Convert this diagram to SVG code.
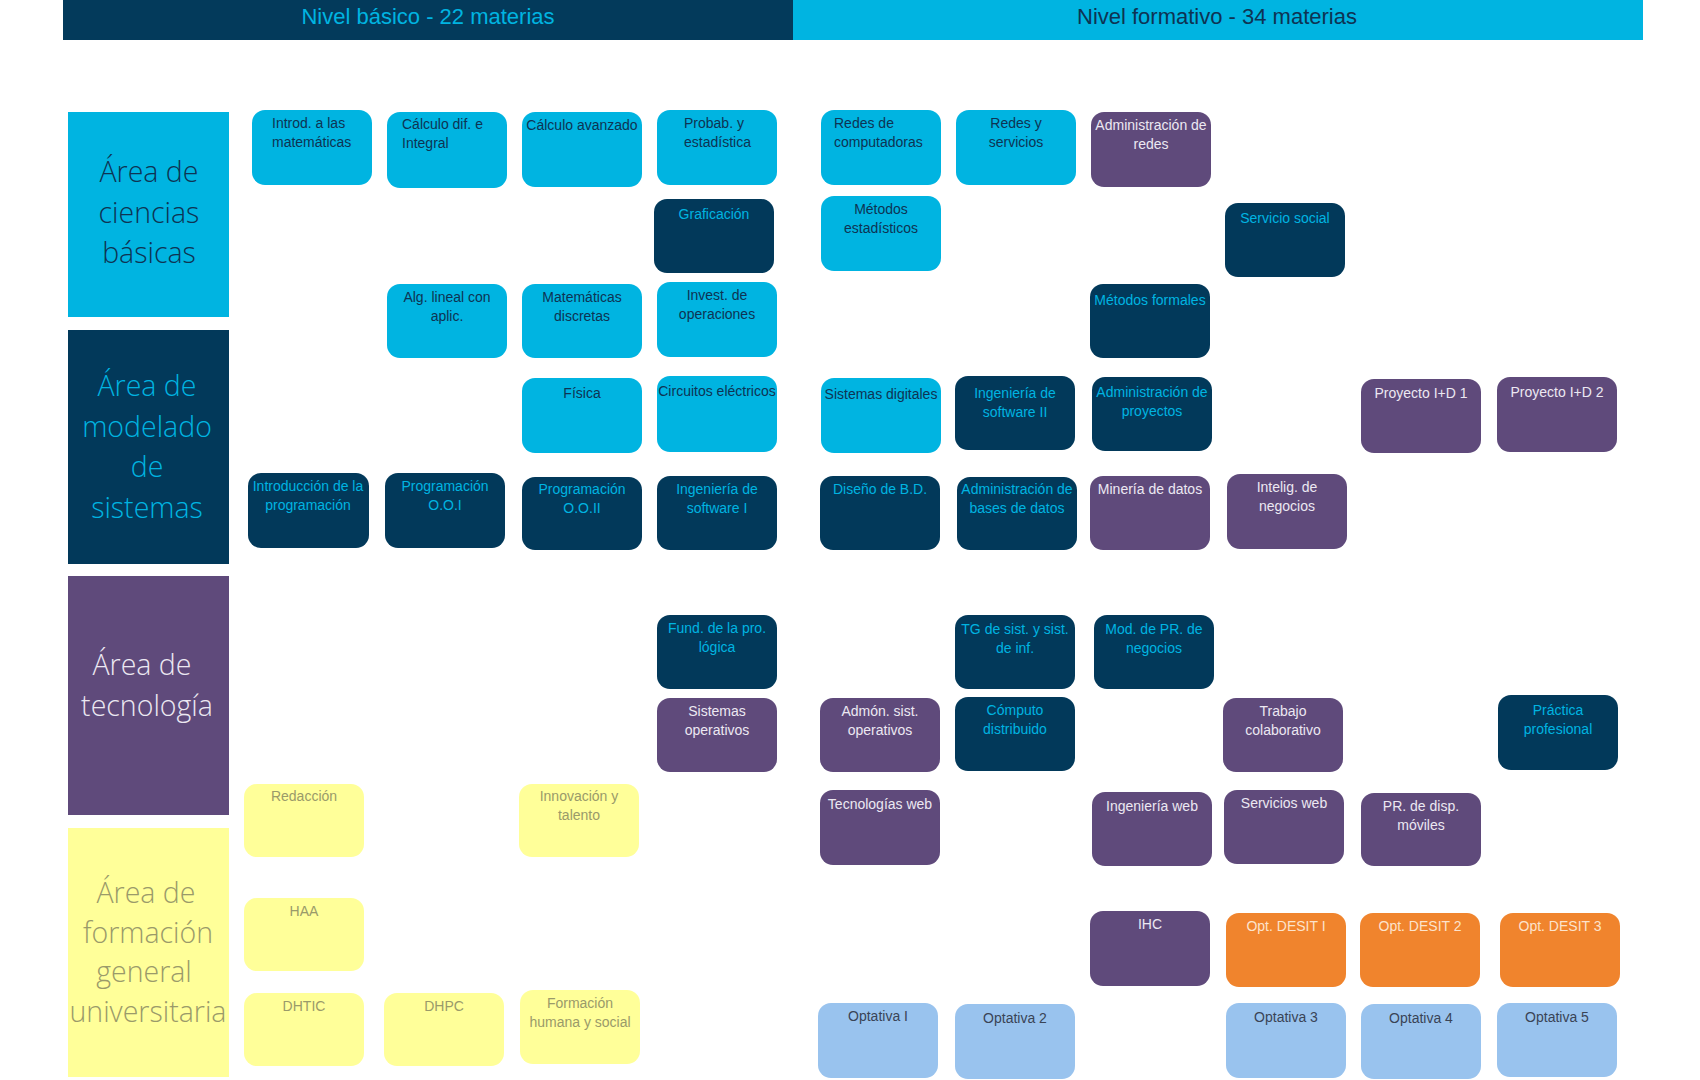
<svg xmlns="http://www.w3.org/2000/svg" width="1700" height="1080" viewBox="0 0 1700 1080">
<style>
text{font-family:"Liberation Sans","Noto Sans",Arial,sans-serif}
.n{stroke:none}
.cy{fill:#00B4E1}.nv{fill:#02395A}.pu{fill:#5F4A7B}.ye{fill:#FFFF99}.or{fill:#F0842D}.lb{fill:#99C3EE}
.t{font-size:14px;text-anchor:middle}
.tl{font-size:14px;text-anchor:start}
.tcy{fill:#0E3353}.tnv{fill:#00B4E1}.tpu{fill:#ECE8F2}.tye{fill:#9A9A6A}.tor{fill:#FCE3CC}.tlb{fill:#3A4456}
.cat{font-family:"Open Sans","Liberation Sans",sans-serif;font-weight:300;font-size:28.5px;text-anchor:middle}
.hdr{font-size:22px;text-anchor:middle}
</style>
<rect width="1700" height="1080" fill="#FFFFFF"/>
<g id="header-basico"><rect x="63" y="0" width="730" height="40" fill="#033A5B"/><text class="hdr" x="428" y="24" fill="#00B4E1">Nivel básico - 22 materias</text></g>
<g id="header-formativo"><rect x="793" y="0" width="850" height="40" fill="#00B4E1"/><text class="hdr" x="1217" y="24" fill="#0E3353">Nivel formativo - 34 materias</text></g>

<g id="area-ciencias"><rect x="68" y="112" width="161" height="205" class="cy"/><text class="cat tcy" x="149" y="182"><tspan x="149">Área de</tspan><tspan x="149" dy="40.6">ciencias</tspan><tspan x="149" dy="40.6">básicas</tspan></text></g>
<g id="area-modelado"><rect x="68" y="330" width="161" height="234" class="nv"/><text class="cat tnv" x="147" y="396"><tspan x="147">Área de</tspan><tspan x="147" dy="40.6">modelado</tspan><tspan x="147" dy="40.6">de</tspan><tspan x="147" dy="40.6">sistemas</tspan></text></g>
<g id="area-tecnologia"><rect x="68" y="576" width="161" height="239" class="pu"/><text class="cat tpu" x="144" y="675"><tspan x="142">Área de</tspan><tspan x="147" dy="40.6">tecnología</tspan></text></g>
<g id="area-formacion"><rect x="68" y="828" width="161" height="249" class="ye"/><text class="cat tye" x="146" y="903"><tspan x="146">Área de</tspan><tspan x="148" dy="40">formación</tspan><tspan x="144" dy="39">general</tspan><tspan x="148" dy="40">universitaria</tspan></text></g>

<g id="connectors"></g>

<!-- Column A -->
<g id="introd-mat"><rect class="n cy" x="252" y="110" width="120" height="75" rx="13"/><text class="tl tcy" x="272" y="128"><tspan x="272">Introd. a las</tspan><tspan x="272" dy="18.5">matemáticas</tspan></text></g>
<g id="intro-prog"><rect class="n nv" x="248" y="473" width="121" height="75" rx="13"/><text class="t tnv" x="308" y="491"><tspan x="308">Introducción de la</tspan><tspan x="308" dy="18.5">programación</tspan></text></g>
<g id="redaccion"><rect class="n ye" x="244" y="784" width="120" height="73" rx="13"/><text class="t tye" x="304" y="801">Redacción</text></g>
<g id="haa"><rect class="n ye" x="244" y="898" width="120" height="73" rx="13"/><text class="t tye" x="304" y="916">HAA</text></g>
<g id="dhtic"><rect class="n ye" x="244" y="993" width="120" height="73" rx="13"/><text class="t tye" x="304" y="1011">DHTIC</text></g>

<!-- Column B -->
<g id="calculo-dif"><rect class="n cy" x="387" y="112" width="120" height="76" rx="13"/><text class="tl tcy" x="402" y="129"><tspan x="402">Cálculo dif. e</tspan><tspan x="402" dy="18.5">Integral</tspan></text></g>
<g id="alg-lineal"><rect class="n cy" x="387" y="284" width="120" height="74" rx="13"/><text class="t tcy" x="447" y="302"><tspan x="447">Alg. lineal con</tspan><tspan x="447" dy="18.5">aplic.</tspan></text></g>
<g id="prog-ooi"><rect class="n nv" x="385" y="473" width="120" height="75" rx="13"/><text class="t tnv" x="445" y="491"><tspan x="445">Programación</tspan><tspan x="445" dy="18.5">O.O.I</tspan></text></g>
<g id="dhpc"><rect class="n ye" x="384" y="993" width="120" height="73" rx="13"/><text class="t tye" x="444" y="1011">DHPC</text></g>

<!-- Column C -->
<g id="calculo-av"><rect class="n cy" x="522" y="112" width="120" height="75" rx="13"/><text class="t tcy" x="582" y="130">Cálculo avanzado</text></g>
<g id="mat-discretas"><rect class="n cy" x="522" y="284" width="120" height="74" rx="13"/><text class="t tcy" x="582" y="302"><tspan x="582">Matemáticas</tspan><tspan x="582" dy="18.5">discretas</tspan></text></g>
<g id="fisica"><rect class="n cy" x="522" y="378" width="120" height="75" rx="13"/><text class="t tcy" x="582" y="398">Física</text></g>
<g id="prog-ooii"><rect class="n nv" x="522" y="477" width="120" height="73" rx="13"/><text class="t tnv" x="582" y="494"><tspan x="582">Programación</tspan><tspan x="582" dy="18.5">O.O.II</tspan></text></g>
<g id="innovacion"><rect class="n ye" x="519" y="784" width="120" height="73" rx="13"/><text class="t tye" x="579" y="801"><tspan x="579">Innovación y</tspan><tspan x="579" dy="18.5">talento</tspan></text></g>
<g id="formacion-hs"><rect class="n ye" x="520" y="990" width="120" height="74" rx="13"/><text class="t tye" x="580" y="1008"><tspan x="580">Formación</tspan><tspan x="580" dy="18.5">humana y social</tspan></text></g>

<!-- Column D -->
<g id="probab"><rect class="n cy" x="657" y="110" width="120" height="75" rx="13"/><text class="tl tcy" x="684" y="128"><tspan x="684">Probab. y</tspan><tspan x="684" dy="18.5">estadística</tspan></text></g>
<g id="graficacion"><rect class="n nv" x="654" y="199" width="120" height="74" rx="13"/><text class="t tnv" x="714" y="219">Graficación</text></g>
<g id="invest-op"><rect class="n cy" x="657" y="282" width="120" height="75" rx="13"/><text class="t tcy" x="717" y="300"><tspan x="717">Invest. de</tspan><tspan x="717" dy="18.5">operaciones</tspan></text></g>
<g id="circuitos"><rect class="n cy" x="657" y="376" width="120" height="76" rx="13"/><text class="t tcy" x="717" y="396">Circuitos eléctricos</text></g>
<g id="ing-sw-i"><rect class="n nv" x="657" y="476" width="120" height="74" rx="13"/><text class="t tnv" x="717" y="494"><tspan x="717">Ingeniería de</tspan><tspan x="717" dy="18.5">software I</tspan></text></g>
<g id="fund-prog-logica"><rect class="n nv" x="657" y="615" width="120" height="74" rx="13"/><text class="t tnv" x="717" y="633"><tspan x="717">Fund. de la pro.</tspan><tspan x="717" dy="18.5">lógica</tspan></text></g>
<g id="sist-operativos"><rect class="n pu" x="657" y="698" width="120" height="74" rx="13"/><text class="t tpu" x="717" y="716"><tspan x="717">Sistemas</tspan><tspan x="717" dy="18.5">operativos</tspan></text></g>

<!-- Column E -->
<g id="redes-comp"><rect class="n cy" x="821" y="110" width="120" height="75" rx="13"/><text class="tl tcy" x="834" y="128"><tspan x="834">Redes de</tspan><tspan x="834" dy="18.5">computadoras</tspan></text></g>
<g id="metodos-est"><rect class="n cy" x="821" y="196" width="120" height="75" rx="13"/><text class="t tcy" x="881" y="214"><tspan x="881">Métodos</tspan><tspan x="881" dy="18.5">estadísticos</tspan></text></g>
<g id="sist-digitales"><rect class="n cy" x="821" y="378" width="120" height="75" rx="13"/><text class="t tcy" x="881" y="399">Sistemas digitales</text></g>
<g id="diseno-bd"><rect class="n nv" x="820" y="476" width="120" height="74" rx="13"/><text class="t tnv" x="880" y="494">Diseño de B.D.</text></g>
<g id="admon-so"><rect class="n pu" x="820" y="698" width="120" height="74" rx="13"/><text class="t tpu" x="880" y="716"><tspan x="880">Admón. sist.</tspan><tspan x="880" dy="18.5">operativos</tspan></text></g>
<g id="tec-web"><rect class="n pu" x="820" y="790" width="120" height="75" rx="13"/><text class="t tpu" x="880" y="809">Tecnologías web</text></g>
<g id="optativa-1"><rect class="n lb" x="818" y="1003" width="120" height="75" rx="13"/><text class="t tlb" x="878" y="1021">Optativa I</text></g>

<!-- Column F -->
<g id="redes-serv"><rect class="n cy" x="956" y="110" width="120" height="75" rx="13"/><text class="t tcy" x="1016" y="128"><tspan x="1016">Redes y</tspan><tspan x="1016" dy="18.5">servicios</tspan></text></g>
<g id="ing-sw-ii"><rect class="n nv" x="955" y="376" width="120" height="74" rx="13"/><text class="t tnv" x="1015" y="398"><tspan x="1015">Ingeniería de</tspan><tspan x="1015" dy="18.5">software II</tspan></text></g>
<g id="admin-bd"><rect class="n nv" x="957" y="477" width="120" height="73" rx="13"/><text class="t tnv" x="1017" y="494"><tspan x="1017">Administración de</tspan><tspan x="1017" dy="18.5">bases de datos</tspan></text></g>
<g id="tg-sist"><rect class="n nv" x="955" y="615" width="120" height="74" rx="13"/><text class="t tnv" x="1015" y="634"><tspan x="1015">TG de sist. y sist.</tspan><tspan x="1015" dy="18.5">de inf.</tspan></text></g>
<g id="computo-dist"><rect class="n nv" x="955" y="697" width="120" height="74" rx="13"/><text class="t tnv" x="1015" y="715"><tspan x="1015">Cómputo</tspan><tspan x="1015" dy="18.5">distribuido</tspan></text></g>
<g id="optativa-2"><rect class="n lb" x="955" y="1004" width="120" height="75" rx="13"/><text class="t tlb" x="1015" y="1023">Optativa 2</text></g>

<!-- Column G -->
<g id="admin-redes"><rect class="n pu" x="1091" y="112" width="120" height="75" rx="13"/><text class="t tpu" x="1151" y="130"><tspan x="1151">Administración de</tspan><tspan x="1151" dy="18.5">redes</tspan></text></g>
<g id="metodos-formales"><rect class="n nv" x="1090" y="284" width="120" height="74" rx="13"/><text class="t tnv" x="1150" y="305">Métodos formales</text></g>
<g id="admin-proy"><rect class="n nv" x="1092" y="377" width="120" height="74" rx="13"/><text class="t tnv" x="1152" y="397"><tspan x="1152">Administración de</tspan><tspan x="1152" dy="18.5">proyectos</tspan></text></g>
<g id="mineria"><rect class="n pu" x="1090" y="476" width="120" height="74" rx="13"/><text class="t tpu" x="1150" y="494">Minería de datos</text></g>
<g id="mod-pr-negocios"><rect class="n nv" x="1094" y="615" width="120" height="74" rx="13"/><text class="t tnv" x="1154" y="634"><tspan x="1154">Mod. de PR. de</tspan><tspan x="1154" dy="18.5">negocios</tspan></text></g>
<g id="ing-web"><rect class="n pu" x="1092" y="792" width="120" height="74" rx="13"/><text class="t tpu" x="1152" y="811">Ingeniería web</text></g>
<g id="ihc"><rect class="n pu" x="1090" y="911" width="120" height="75" rx="13"/><text class="t tpu" x="1150" y="929">IHC</text></g>

<!-- Column H -->
<g id="servicio-social"><rect class="n nv" x="1225" y="203" width="120" height="74" rx="13"/><text class="t tnv" x="1285" y="223">Servicio social</text></g>
<g id="intelig-negocios"><rect class="n pu" x="1227" y="474" width="120" height="75" rx="13"/><text class="t tpu" x="1287" y="492"><tspan x="1287">Intelig. de</tspan><tspan x="1287" dy="18.5">negocios</tspan></text></g>
<g id="trabajo-colab"><rect class="n pu" x="1223" y="698" width="120" height="74" rx="13"/><text class="t tpu" x="1283" y="716"><tspan x="1283">Trabajo</tspan><tspan x="1283" dy="18.5">colaborativo</tspan></text></g>
<g id="servicios-web"><rect class="n pu" x="1224" y="790" width="120" height="74" rx="13"/><text class="t tpu" x="1284" y="808">Servicios web</text></g>
<g id="opt-desit-1"><rect class="n or" x="1226" y="913" width="120" height="74" rx="13"/><text class="t tor" x="1286" y="931">Opt. DESIT I</text></g>
<g id="optativa-3"><rect class="n lb" x="1226" y="1003" width="120" height="75" rx="13"/><text class="t tlb" x="1286" y="1022">Optativa 3</text></g>

<!-- Column I -->
<g id="proyecto-1"><rect class="n pu" x="1361" y="379" width="120" height="74" rx="13"/><text class="t tpu" x="1421" y="398">Proyecto I+D 1</text></g>
<g id="pr-disp-moviles"><rect class="n pu" x="1361" y="793" width="120" height="73" rx="13"/><text class="t tpu" x="1421" y="811"><tspan x="1421">PR. de disp.</tspan><tspan x="1421" dy="18.5">móviles</tspan></text></g>
<g id="opt-desit-2"><rect class="n or" x="1360" y="913" width="120" height="74" rx="13"/><text class="t tor" x="1420" y="931">Opt. DESIT 2</text></g>
<g id="optativa-4"><rect class="n lb" x="1361" y="1004" width="120" height="75" rx="13"/><text class="t tlb" x="1421" y="1023">Optativa 4</text></g>

<!-- Column J -->
<g id="proyecto-2"><rect class="n pu" x="1497" y="377" width="120" height="75" rx="13"/><text class="t tpu" x="1557" y="397">Proyecto I+D 2</text></g>
<g id="practica-prof"><rect class="n nv" x="1498" y="695" width="120" height="75" rx="13"/><text class="t tnv" x="1558" y="715"><tspan x="1558">Práctica</tspan><tspan x="1558" dy="18.5">profesional</tspan></text></g>
<g id="opt-desit-3"><rect class="n or" x="1500" y="913" width="120" height="74" rx="13"/><text class="t tor" x="1560" y="931">Opt. DESIT 3</text></g>
<g id="optativa-5"><rect class="n lb" x="1497" y="1003" width="120" height="74" rx="13"/><text class="t tlb" x="1557" y="1022">Optativa 5</text></g>
</svg>
